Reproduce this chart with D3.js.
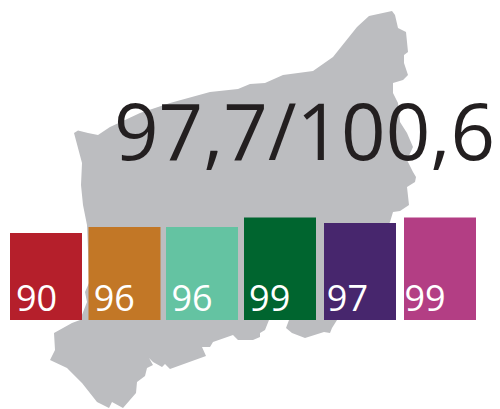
<!DOCTYPE html>
<html><head><meta charset="utf-8">
<script src="https://cdnjs.cloudflare.com/ajax/libs/d3/7.8.5/d3.min.js"></script>
<style>html,body{margin:0;padding:0;background:#fff}svg{display:block}</style></head>
<body><div id="c"></div>
<script>
const categories = ["a","b","c","d","e","f"];
const values = [90,96,96,99,97,99];
const colors = ["#b51f2b","#c27726","#64c3a2","#00652f","#47266d","#b33e84"];
const headline = "97,7/100,6";
const regionOutline = [[74,133],[78,130.5],[88,133],[98,135],[110,127],[140,113],[170,103],[210,92],[238,89],[250,84],[265,83],[283,75],[313,71],[333,57],[357,27],[369,16],[392,11],[395,15],[398,28],[406,32],[407,42],[408,52],[404,55],[404,63],[408,75],[403,80],[393,83],[393,93],[398,103],[400,122],[407,133],[413,147],[407,160],[413,172],[416,177],[415,182],[407,187],[409,205],[400,211],[393,212],[390,222],[360,280],[337,320],[332,328],[330,333],[324,332],[305,338],[292,333],[286,328],[289,320],[269,320],[265,330],[260,333],[260,337],[253,340],[250,340],[238,340],[233,335],[213,342],[210,347],[202,347],[206,356],[170,369],[165,364],[162,367],[153,362],[149,358],[153,365],[147,368],[145,376],[137,382],[136,393],[123,408],[112,402],[109,408],[97,402],[82,383],[67,368],[50,360],[55,350],[54,333],[72,323],[80,320],[87,302],[85,292],[89,283],[88,250],[87,225],[83,205],[81,185],[82,163]];

const W=500,H=409;
const svg=d3.select("#c").append("svg").attr("width",W).attr("height",H);
const font="'Open Sans',sans-serif";

svg.append("path").datum(regionOutline)
  .attr("d",d3.line().curve(d3.curveLinearClosed))
  .attr("fill","#bcbdc0");

const x=d3.scaleOrdinal().domain(categories).range([10,88.5,166,244,324,404]);
const labelX=d3.scalePoint().domain(categories).range([17.5,406]);
const y=d3.scaleLinear().domain([90,96,97,99]).range([233,227,223,217.5]);
const baseY=320, barW=72;

svg.selectAll("rect.bar").data(categories).join("rect").attr("class","bar")
  .attr("x",d=>x(d)).attr("width",barW)
  .attr("y",(d,i)=>y(values[i])).attr("height",(d,i)=>baseY-y(values[i]))
  .attr("fill",(d,i)=>colors[i]);

svg.selectAll("text.val").data(categories).join("text").attr("class","val")
  .attr("x",d=>labelX(d)-1.5).attr("y",311)
  .attr("font-family",font).attr("font-size",36).attr("fill","#fff")
  .text((d,i)=>values[i]);

svg.append("text").attr("x",114).attr("y",160)
  .attr("font-family",font).attr("font-size",78).attr("fill","#231f20")
  .attr("textLength",381).attr("lengthAdjust","spacingAndGlyphs")
  .text(headline);
</script></body></html>
